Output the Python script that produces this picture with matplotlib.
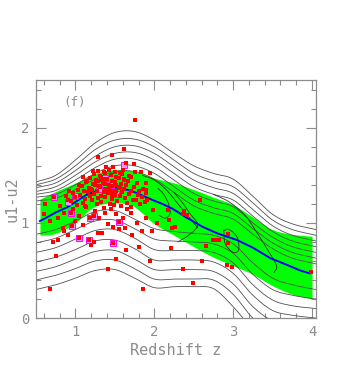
import numpy as np
import matplotlib
matplotlib.use('Agg')
import matplotlib.pyplot as plt
from matplotlib.ticker import MultipleLocator

# ---- data ----
grid_x = [0.5, 0.75, 1.0, 1.25, 1.5, 1.75, 2.0, 2.25, 2.5, 2.75, 3.0, 3.25, 3.5, 3.75, 4.05]

# template tracks above the band (top down)
upper_tracks = [
    [1.43, 1.50, 1.66, 1.84, 1.95, 1.96, 1.87, 1.73, 1.60, 1.52, 1.46, 1.28, 1.09, 0.99, 0.93],
    [1.40, 1.46, 1.60, 1.77, 1.87, 1.88, 1.80, 1.66, 1.52, 1.44, 1.38, 1.21, 1.03, 0.93, 0.87],
    [1.37, 1.42, 1.55, 1.70, 1.80, 1.81, 1.73, 1.59, 1.45, 1.37, 1.31, 1.14, 0.97, 0.87, 0.81],
    [1.33, 1.38, 1.50, 1.64, 1.73, 1.74, 1.66, 1.52, 1.38, 1.30, 1.24, 1.07, 0.91, 0.81, 0.75],
    [1.30, 1.34, 1.45, 1.58, 1.67, 1.67, 1.59, 1.45, 1.31, 1.23, 1.17, 1.00, 0.85, 0.75, 0.69],
    [1.27, 1.30, 1.40, 1.52, 1.60, 1.60, 1.52, 1.38, 1.24, 1.16, 1.10, 0.94, 0.79, 0.69, 0.63],
    [1.23, 1.26, 1.35, 1.46, 1.54, 1.54, 1.46, 1.32, 1.18, 1.10, 1.04, 0.88, 0.73, 0.63, 0.57],
]
# template tracks below the band (bottom up)
lower_tracks = [
    [0.30, 0.35, 0.42, 0.50, 0.51, 0.42, 0.32, 0.33, 0.33, 0.31, 0.12, -0.12, -0.30, -0.35, -0.40],
    [0.40, 0.45, 0.52, 0.60, 0.61, 0.52, 0.41, 0.41, 0.41, 0.40, 0.25, 0.00, -0.14, -0.20, -0.25],
    [0.49, 0.54, 0.62, 0.70, 0.71, 0.62, 0.51, 0.51, 0.51, 0.49, 0.36, 0.12, -0.03, -0.08, -0.12],
    [0.59, 0.64, 0.72, 0.81, 0.82, 0.73, 0.61, 0.61, 0.61, 0.59, 0.47, 0.24, 0.08, 0.03, 0.00],
    [0.69, 0.74, 0.83, 0.92, 0.93, 0.84, 0.72, 0.71, 0.71, 0.69, 0.58, 0.35, 0.19, 0.13, 0.10],
    [0.79, 0.84, 0.93, 1.02, 1.03, 0.94, 0.83, 0.81, 0.80, 0.78, 0.68, 0.46, 0.30, 0.24, 0.20],
    [0.88, 0.93, 1.02, 1.12, 1.13, 1.04, 0.94, 0.91, 0.89, 0.87, 0.78, 0.58, 0.42, 0.35, 0.30],
]

# density contours inside the band
contours = [
    ([1.85, 2.0, 2.15, 2.3, 2.45, 2.55], [1.50, 1.45, 1.35, 1.20, 1.05, 0.95]),
    ([2.05, 2.12, 2.18, 2.2, 2.14, 2.06], [1.36, 1.30, 1.20, 1.10, 1.05, 1.08]),
    ([2.25, 2.35, 2.45, 2.55, 2.45, 2.3], [1.32, 1.22, 1.10, 0.98, 0.88, 0.80]),
    ([2.88, 2.95, 3.05, 3.07, 3.0, 2.9, 2.88], [0.92, 0.93, 0.85, 0.72, 0.69, 0.78, 0.92]),
    ([2.75, 2.95, 3.15, 3.3, 3.45, 3.55, 3.52], [1.30, 1.22, 1.08, 0.90, 0.70, 0.55, 0.48]),
]

band_x = [0.55, 0.75, 1.0, 1.15, 1.3, 1.5, 1.7, 1.85, 2.0, 2.25, 2.5, 2.75, 3.0, 3.25, 3.5, 3.75, 4.0]
band_hi = [1.25, 1.33, 1.42, 1.48, 1.53, 1.56, 1.55, 1.52, 1.47, 1.42, 1.35, 1.27, 1.19, 1.06, 0.93, 0.88, 0.86]
band_lo = [0.87, 0.89, 1.00, 1.12, 1.19, 1.21, 1.19, 1.10, 0.99, 0.87, 0.75, 0.64, 0.55, 0.46, 0.34, 0.25, 0.20]

median_x = [0.55, 0.62, 0.75, 0.91, 1.0, 1.13, 1.25, 1.34, 1.45, 1.55, 1.65, 1.76, 1.87, 1.98, 2.1,
            2.23, 2.4, 2.61, 2.8, 3.05, 3.25, 3.47, 3.68, 3.85, 3.97]
median_y = [1.02, 1.05, 1.11, 1.17, 1.22, 1.29, 1.33, 1.36, 1.37, 1.37, 1.35, 1.32, 1.28, 1.24, 1.20,
            1.15, 1.06, 0.96, 0.89, 0.82, 0.74, 0.63, 0.56, 0.50, 0.47]

qso_x = [1.75, 1.62, 1.29, 1.47, 1.39, 1.48, 1.64, 1.74, 1.60, 1.75, 1.83, 1.89, 1.94, 1.09, 1.22,
         1.15, 1.04, 0.92, 0.73, 0.91, 1.89, 1.91, 1.98, 0.62, 0.68, 0.60, 0.80, 0.85, 0.88, 0.78,
         0.68, 1.41, 1.51, 1.86, 1.95, 0.75, 0.71, 0.78, 0.86, 0.91, 1.24, 1.20, 1.64, 1.80, 2.21,
         2.60, 2.37, 2.49, 2.92, 2.98, 2.65, 2.74, 2.82, 2.93, 2.04, 2.22, 2.18, 2.36, 3.99, 1.28,
         1.34, 1.41, 1.48, 1.55, 1.63, 1.72, 1.85, 1.97, 0.84, 2.58, 2.38, 2.42, 2.19, 2.26, 2.80,
         2.94, 2.93, 1.00, 1.10, 1.25, 1.30, 1.38, 1.60, 1.70, 1.78, 1.90, 1.45, 1.65, 1.52, 0.97,
         1.05, 1.12, 1.04, 1.17, 1.48, 0.96, 0.95, 1.18, 1.23, 1.55,
         1.02, 1.14, 1.27, 1.36, 1.49, 1.58, 1.71, 1.82,
         0.95, 1.09, 1.21, 1.32, 1.44, 1.53, 1.66, 1.77, 1.88,
         1.00, 1.12, 1.19, 1.29, 1.38, 1.47, 1.56, 1.63, 1.73, 1.84,
         0.97, 1.06, 1.16, 1.24, 1.33, 1.41, 1.50, 1.59, 1.68, 1.79, 1.90,
         1.03, 1.11, 1.20, 1.27, 1.36, 1.43, 1.52, 1.61, 1.70, 1.81,
         1.08, 1.17, 1.25, 1.31, 1.39, 1.46, 1.55, 1.64, 1.74, 1.86,
         1.13, 1.22, 1.29, 1.35, 1.42, 1.50, 1.58, 1.67, 1.78,
         1.18, 1.26, 1.33, 1.40, 1.47, 1.55, 1.62, 1.71,
         1.23, 1.31, 1.37, 1.45, 1.52, 1.59, 1.68,
         1.28, 1.36, 1.43, 1.50, 1.57,
         1.34, 1.40, 1.46, 1.37, 1.43, 1.30, 1.52, 1.26, 1.48, 1.35, 1.42, 1.56, 1.21, 1.61]
qso_y = [2.08, 1.78, 1.69, 1.71, 1.59, 1.59, 1.63, 1.62, 1.56, 1.53, 1.54, 1.42, 1.52, 1.48, 1.55,
         1.44, 1.40, 1.33, 1.27, 1.24, 1.35, 1.24, 1.14, 1.20, 1.02, 1.09, 1.18, 1.10, 1.28, 1.05,
         0.31, 0.52, 0.62, 0.31, 0.60, 0.65, 0.80, 0.82, 0.92, 0.87, 0.80, 0.77, 0.72, 0.75, 0.74,
         0.60, 0.52, 0.37, 0.56, 0.54, 0.76, 0.82, 0.82, 0.88, 1.00, 0.95, 1.14, 1.09, 0.48, 0.89,
         0.89, 0.99, 0.96, 0.94, 0.95, 0.87, 0.91, 0.92, 0.95, 1.24, 1.12, 1.08, 1.03, 0.96, 0.82,
         0.88, 0.79, 1.02, 0.98, 1.12, 1.05, 1.10, 1.05, 1.10, 1.00, 1.05, 1.15, 1.15, 1.09, 1.15,
         1.07, 1.18, 0.84, 0.82, 0.79, 0.97, 1.10, 1.05, 1.07, 1.01,
         1.19, 1.17, 1.20, 1.16, 1.19, 1.18, 1.17, 1.20,
         1.23, 1.21, 1.24, 1.22, 1.20, 1.23, 1.21, 1.24, 1.22,
         1.27, 1.25, 1.28, 1.26, 1.27, 1.25, 1.28, 1.26, 1.24, 1.27,
         1.31, 1.29, 1.32, 1.30, 1.28, 1.31, 1.29, 1.32, 1.30, 1.29, 1.31,
         1.35, 1.33, 1.36, 1.34, 1.32, 1.35, 1.33, 1.36, 1.34, 1.33,
         1.39, 1.37, 1.40, 1.38, 1.36, 1.39, 1.37, 1.40, 1.38, 1.36,
         1.43, 1.41, 1.44, 1.42, 1.40, 1.43, 1.41, 1.44, 1.42,
         1.47, 1.45, 1.48, 1.46, 1.44, 1.47, 1.45, 1.48,
         1.51, 1.49, 1.52, 1.50, 1.48, 1.51, 1.49,
         1.55, 1.53, 1.56, 1.54, 1.52,
         1.45, 1.33, 1.29, 1.41, 1.37, 1.39, 1.40, 1.44, 1.33, 1.46, 1.31, 1.38, 1.35, 1.46]

special_x = [1.04, 1.17, 1.48, 0.96, 0.95, 1.18, 1.23, 1.55, 1.62, 0.73, 1.30, 1.45, 1.52, 0.90, 1.00, 1.38]
special_y = [0.84, 0.82, 0.79, 0.97, 1.10, 1.05, 1.07, 1.01, 1.61, 1.27, 1.36, 1.40, 1.30, 1.22, 1.28, 1.47]


def smooth(x, y, n=16):
    # Catmull-Rom through the read points
    x = np.asarray(x, float)
    y = np.asarray(y, float)
    px = np.concatenate([[2*x[0]-x[1]], x, [2*x[-1]-x[-2]]])
    py = np.concatenate([[2*y[0]-y[1]], y, [2*y[-1]-y[-2]]])
    t = np.linspace(0, 1, n, endpoint=False)
    xs, ys = [], []
    for i in range(1, len(px)-2):
        for p, out in ((px, xs), (py, ys)):
            p0, p1, p2, p3 = p[i-1], p[i], p[i+1], p[i+2]
            out.append(0.5*(2*p1 + (-p0+p2)*t + (2*p0-5*p1+4*p2-p3)*t**2
                            + (-p0+3*p1-3*p2+p3)*t**3))
    xs.append([x[-1]])
    ys.append([y[-1]])
    return np.concatenate(xs), np.concatenate(ys)


gray = '#8c8c8c'
plt.rcParams['font.family'] = 'DejaVu Sans Mono'

fig = plt.figure(figsize=(3.61, 3.87), dpi=100)
ax = fig.add_axes([0.0997, 0.178, 0.7756, 0.615])

bx, bh = smooth(band_x, band_hi, 8)
_, bl = smooth(band_x, band_lo, 8)
ax.fill_between(bx, bl, bh, color='#00ff00', lw=0, zorder=1)

for tr in upper_tracks + lower_tracks:
    sx, sy = smooth(grid_x, tr)
    ax.plot(sx, sy, color='#505050', lw=0.6, zorder=2)
for cx, cy in contours:
    sx, sy = smooth(cx, cy, 10)
    ax.plot(sx, sy, color='#303030', lw=0.6, zorder=2)

ax.plot(median_x, median_y, color='#0000ff', lw=1.4, zorder=3)

ax.plot(special_x, special_y, 's', ms=4.2, mfc='#ff90ff', mec='#ff00ff', mew=0.7, zorder=4)
ax.plot(qso_x, qso_y, 's', ms=2.5, color='#ff0000', mew=0, zorder=5)

ax.text(0.99, 2.27, '(f)', fontsize=9, color=gray, ha='center', va='center')

ax.set_xlim(0.5, 4.05)
ax.set_ylim(0, 2.5)
ax.xaxis.set_major_locator(MultipleLocator(1))
ax.xaxis.set_minor_locator(MultipleLocator(0.2))
ax.yaxis.set_major_locator(MultipleLocator(1))
ax.yaxis.set_minor_locator(MultipleLocator(0.2))
ax.tick_params(which='both', direction='in', top=True, right=True, colors=gray,
               labelsize=10, width=0.8)
ax.tick_params(which='major', length=7, pad=5)
ax.tick_params(which='minor', length=3.5)
for s in ax.spines.values():
    s.set_color(gray)
    s.set_linewidth(0.9)

ax.set_xlabel('Redshift z', fontsize=11, color=gray, labelpad=3)
ax.set_ylabel('u1-u2', fontsize=11, color=gray, labelpad=1)

fig.savefig('out.png', dpi=100)
